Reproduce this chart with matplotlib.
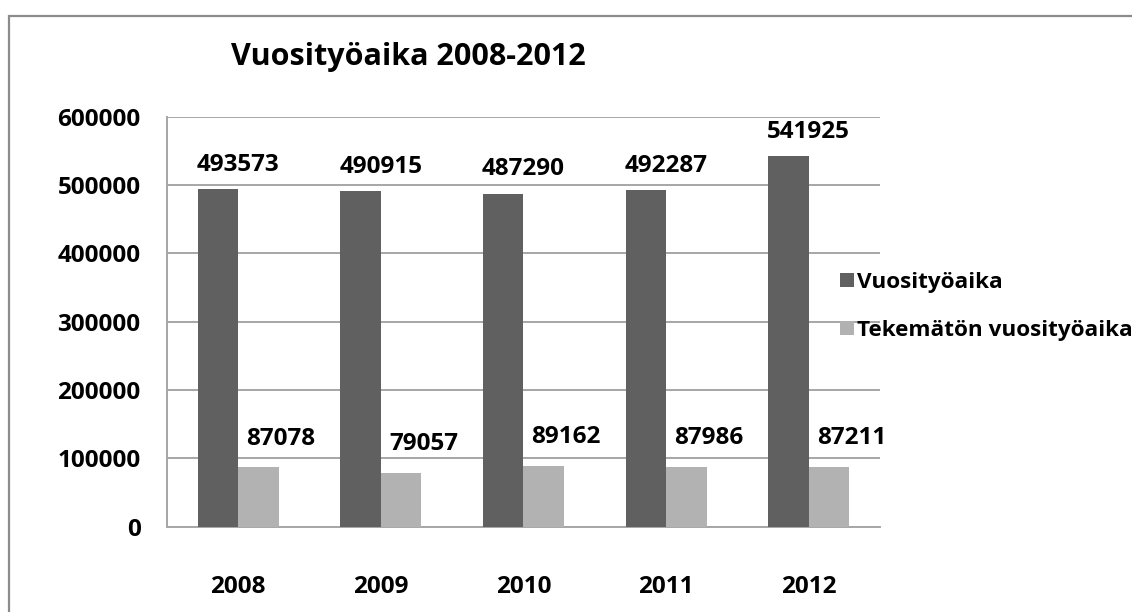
import matplotlib.pyplot as plt
from matplotlib.patches import Rectangle
import numpy as np

years = ["2008", "2009", "2010", "2011", "2012"]
vuosityoaika = [493573, 490915, 487290, 492287, 541925]
tekematon = [87078, 79057, 89162, 87986, 87211]
series_names = ["Vuosityöaika", "Tekemätön vuosityöaika"]
yticks = [0, 100000, 200000, 300000, 400000, 500000, 600000]

dark = "#606060"
light = "#b2b2b2"
grid = "#a6a6a6"

plt.rcParams['font.family'] = ['Open Sans', 'DejaVu Sans']
plt.rcParams['font.weight'] = 'bold'
fs = 17.5

fig = plt.figure(figsize=(11.32, 6.12), dpi=100)
ax = fig.add_axes([0.1475, 0.1394, 0.6299, 0.6699])

# outer chart border (runs off right and bottom edges)
fig.patches.append(Rectangle((9 / 1132, -0.1), 1.2, 1.1 - 16 / 612,
                             transform=fig.transFigure, fill=False,
                             edgecolor="#8c8c8c", linewidth=1.6))

x = np.arange(len(years))
w = 0.284
b1 = ax.bar(x - w / 2, vuosityoaika, w, color=dark, label=series_names[0], zorder=3)
b2 = ax.bar(x + w / 2, tekematon, w, color=light, label=series_names[1], zorder=3)

for i, v in enumerate(vuosityoaika):
    ax.annotate(str(v), xy=(x[i], v), xytext=(0, 9), textcoords="offset points",
                ha="center", va="bottom", fontsize=fs, fontweight="bold")
for i, v in enumerate(tekematon):
    ax.annotate(str(v), xy=(x[i] + 0.3, v), xytext=(0, 12), textcoords="offset points",
                ha="center", va="bottom", fontsize=fs, fontweight="bold")

ax.set_xlim(-0.5, len(years) - 0.5)
ax.set_ylim(0, 600000)
ax.set_yticks(yticks)
ax.set_yticklabels([str(t) for t in yticks])
ax.set_xticks(x)
ax.set_xticklabels(years)
ax.tick_params(axis="both", length=0, labelsize=fs)
ax.tick_params(axis="x", pad=35)
ax.tick_params(axis="y", pad=19)
for lab in ax.get_xticklabels() + ax.get_yticklabels():
    lab.set_fontweight("bold")

ax.yaxis.grid(True, color=grid, linewidth=1.4, zorder=0)
ax.set_axisbelow(True)
for s in ["top", "right"]:
    ax.spines[s].set_visible(False)
for s in ["left", "bottom"]:
    ax.spines[s].set_color(grid)
    ax.spines[s].set_linewidth(1.4)

fig.text(408 / 1132, 1 - 57 / 612, "Vuosityöaika 2008-2012", ha="center", va="center",
         fontsize=22, fontweight="bold")

ax.legend(handles=[b1, b2], loc="upper left", bbox_to_anchor=(840 / 1132, 1 - 272 / 612),
          bbox_transform=fig.transFigure, frameon=False, fontsize=16.2,
          handlelength=0.6, handleheight=0.6, handletextpad=0.15, labelspacing=1.2,
          borderpad=0, borderaxespad=0)

fig.savefig("out.png", dpi=100, facecolor="white")
